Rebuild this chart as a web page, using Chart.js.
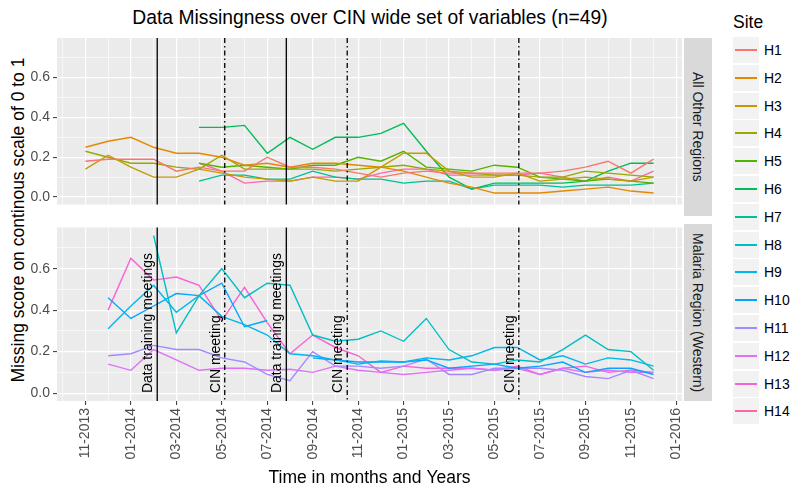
<!DOCTYPE html>
<html>
<head>
<meta charset="utf-8">
<script src="https://cdn.jsdelivr.net/npm/chart.js@4.4.1/dist/chart.umd.min.js"></script>
<style>
  body { margin: 0; background: #fff; font-family: "Liberation Sans", Arial, sans-serif; }
  #wrap { position: relative; width: 800px; height: 494px; overflow: hidden; }
  canvas { position: absolute; left: 0; }
  #title { position: absolute; left: 370px; top: 18px; transform: translate(-50%, -50%); font-size: 19.3px; white-space: nowrap; color: #000; }
  #ytitle { position: absolute; left: 18px; top: 219.5px; transform: translate(-50%, -50%) rotate(-90deg); font-size: 17.5px; white-space: nowrap; color: #000; }
  .strip { position: absolute; left: 683.5px; width: 28px; background: #D9D9D9; color: #1A1A1A; font-size: 14px;
           writing-mode: vertical-rl; display: flex; align-items: center; justify-content: center; white-space: nowrap; }
  #legend-title { position: absolute; left: 733px; top: 22px; transform: translateY(-50%); font-size: 17.5px; }
  .key { position: absolute; left: 733px; width: 26px; height: 26px; background: #F2F2F2; }
  .key span { position: absolute; left: 2px; right: 2px; top: 12px; height: 2px; }
  .klabel { position: absolute; left: 764px; font-size: 14px; line-height: 26px; height: 26px; }
</style>
</head>
<body>
<div id="wrap">
  <div id="title">Data Missingness over CIN wide set of variables (n=49)</div>
  <div id="ytitle">Missing score on continous scale of 0 to 1</div>
  <canvas id="top-chart" width="712" height="216" style="top:0"></canvas>
  <canvas id="bottom-chart" width="712" height="278" style="top:216px"></canvas>
  <div class="strip" style="top:38px;height:177.5px">All Other Regions</div>
  <div class="strip" style="top:223.5px;height:177.5px">Malaria Region (Western)</div>
  <div id="legend-title">Site</div>
  <div id="legend"></div>
</div>
<script>
// month index 0 = 11-2013 ... 25 = 12-2015
const tickLabels = ["11-2013", "01-2014", "03-2014", "05-2014", "07-2014", "09-2014", "11-2014",
                    "01-2015", "03-2015", "05-2015", "07-2015", "09-2015", "11-2015", "01-2016"];

const sites = ["H1", "H2", "H3", "H4", "H5", "H6", "H7", "H8", "H9", "H10", "H11", "H12", "H13", "H14"];
const siteColors = ["#F8766D", "#E38900", "#C49A00", "#99A800", "#53B400", "#00BC56", "#00C094",
                    "#00BFC4", "#00B6EB", "#06A4FF", "#A58AFF", "#DF70F8", "#FB61D7", "#FF66A8"];

const otherRegionSites = ["H1", "H2", "H3", "H4", "H5", "H6", "H7", "H14"];
const malariaSites = ["H8", "H9", "H10", "H11", "H12", "H13"];

// ---- All Other Regions ----
const H1 = [0.18, 0.19, 0.19, 0.19, 0.13, 0.15, 0.13, 0.13, 0.20, 0.15, 0.15, 0.14, 0.12, 0.10, 0.12, 0.13, 0.12, 0.12, 0.12, 0.12, 0.12, 0.13, 0.15, 0.18, 0.12, 0.19];
const H2 = [0.25, 0.28, 0.30, 0.25, 0.22, 0.22, 0.20, 0.16, 0.17, 0.15, 0.17, 0.17, 0.16, 0.15, 0.13, 0.10, 0.07, 0.05, 0.02, 0.02, 0.02, 0.03, 0.04, 0.05, 0.03, 0.02];
const H3 = [0.14, 0.21, 0.15, 0.10, 0.10, 0.14, 0.12, 0.10, 0.09, 0.08, 0.10, 0.08, 0.08, 0.15, 0.22, 0.22, 0.13, 0.10, 0.10, 0.12, 0.08, 0.09, 0.10, 0.09, 0.08, 0.10];
const H4 = [0.23, 0.20, 0.17, 0.17, 0.15, 0.14, 0.21, 0.14, 0.14, 0.14, 0.14, 0.13, 0.14, 0.15, 0.16, 0.14, 0.13, 0.12, 0.11, 0.11, 0.10, 0.10, 0.13, 0.12, 0.11, 0.10];
const H5 = [null, null, null, null, null, 0.17, 0.15, 0.16, 0.15, 0.14, 0.16, 0.16, 0.20, 0.18, 0.23, 0.15, 0.14, 0.13, 0.16, 0.15, 0.10, 0.09, 0.08, 0.09, 0.08, 0.07];
const H6 = [null, null, null, null, null, 0.35, 0.35, 0.36, 0.22, 0.30, 0.24, 0.30, 0.30, 0.32, 0.37, 0.23, 0.10, 0.04, 0.07, 0.07, 0.07, 0.07, 0.08, 0.13, 0.17, 0.17];
const H7 = [null, null, null, null, null, 0.08, 0.11, 0.11, 0.09, 0.09, 0.13, 0.10, 0.09, 0.09, 0.07, 0.08, 0.08, 0.04, 0.06, 0.06, 0.06, 0.05, 0.06, 0.06, 0.06, 0.07];
const H14 = [null, null, null, null, null, 0.17, 0.13, 0.07, 0.08, 0.08, 0.10, 0.10, 0.09, 0.12, 0.14, 0.14, 0.11, 0.11, 0.11, 0.11, 0.12, 0.10, 0.08, 0.10, 0.08, 0.13];

// ---- Malaria Region (Western) ----
const H8 = [null, null, null, 0.76, 0.29, 0.47, 0.60, 0.46, 0.53, 0.52, 0.28, 0.25, 0.26, 0.30, 0.25, 0.36, 0.21, 0.15, 0.14, 0.16, 0.15, 0.21, 0.28, 0.21, 0.20, 0.11];
const H9 = [null, 0.31, 0.42, 0.52, 0.39, 0.47, 0.37, 0.33, 0.28, 0.19, 0.18, 0.16, 0.14, 0.155, 0.15, 0.17, 0.16, 0.18, 0.22, 0.22, 0.16, 0.18, 0.14, 0.17, 0.16, 0.13];
const H10 = [null, 0.46, 0.36, 0.42, 0.48, 0.47, 0.53, 0.32, 0.35, null, 0.17, 0.16, 0.15, 0.15, 0.15, 0.16, 0.12, 0.13, 0.14, 0.12, 0.13, 0.15, 0.10, 0.12, 0.12, 0.09];
const H11 = [null, 0.18, 0.19, 0.23, 0.21, 0.21, 0.17, 0.15, 0.09, 0.06, 0.20, 0.13, 0.13, 0.12, 0.13, 0.165, 0.09, 0.09, 0.12, 0.12, 0.12, 0.11, 0.08, 0.07, 0.11, 0.07];
const H12 = [null, 0.14, 0.11, 0.21, 0.16, 0.11, 0.12, 0.12, 0.11, 0.115, 0.10, 0.13, 0.11, 0.10, 0.09, 0.10, 0.11, 0.12, 0.11, 0.12, 0.09, 0.12, 0.10, 0.11, 0.10, 0.10];
const H13 = [null, 0.40, 0.65, 0.545, 0.56, 0.52, 0.35, 0.51, 0.34, 0.19, 0.28, 0.22, 0.18, 0.10, 0.13, 0.12, 0.12, 0.12, 0.11, 0.13, 0.09, 0.12, 0.13, 0.10, 0.11, 0.10];

const siteData = { H1, H2, H3, H4, H5, H6, H7, H8, H9, H10, H11, H12, H13, H14 };

// event dates as fractional month index
const trainingMeetings = [3.16, 8.84];
const cinMeetings = [6.13, 11.52, 19.07];
const trainingLabel = "Data training meetings";
const cinLabel = "CIN meeting";

const FONT = "'Liberation Sans', Arial, sans-serif";
Chart.defaults.font.family = FONT;

// ============== helpers ==============
const isMajorX = v => Math.round(v) % 2 === 0;
const isMajorY = v => Math.round(v * 10) % 2 === 0;

function makeDatasets(list) {
  return list.map(name => ({
    label: name,
    data: siteData[name].map((v, i) => ({ x: i, y: v })),
    borderColor: siteColors[sites.indexOf(name)],
    borderWidth: 1.4,
    pointRadius: 0,
    tension: 0,
    spanGaps: false,
  }));
}

function yAxis() {
  return {
    type: "linear",
    min: -0.038,
    max: 0.799,
    afterFit: s => { s.width = 57; },
    border: { display: false },
    grid: {
      color: "#ffffff",
      lineWidth: c => isMajorY(c.tick.value) ? 1.2 : 0.6,
      tickColor: c => isMajorY(c.tick.value) ? "#333333" : "rgba(0,0,0,0)",
      tickLength: 4,
      tickWidth: 1,
    },
    ticks: {
      stepSize: 0.1,
      includeBounds: false,
      padding: 3,
      color: "#4D4D4D",
      font: { size: 14 },
      callback: v => {
        const k = Math.round(v * 10);
        return k % 2 === 0 ? (k / 10).toFixed(1) : "";
      },
    },
  };
}

function xAxis(showLabels) {
  const axis = {
    type: "linear",
    min: -1.25,
    max: 26.25,
    border: { display: false },
    grid: {
      color: "#ffffff",
      lineWidth: c => isMajorX(c.tick.value) ? 1.2 : 0.6,
      drawTicks: showLabels,
      tickColor: c => isMajorX(c.tick.value) ? "#333333" : "rgba(0,0,0,0)",
      tickLength: 4,
      tickWidth: 1,
    },
    ticks: {
      display: showLabels,
      stepSize: 1,
      includeBounds: false,
      autoSkip: false,
      minRotation: 90,
      maxRotation: 90,
      padding: 3,
      color: "#4D4D4D",
      font: { size: 14 },
      callback: v => {
        const k = Math.round(v);
        return k % 2 === 0 ? tickLabels[k / 2] : "";
      },
    },
  };
  if (showLabels) {
    axis.afterFit = s => { s.height = 93; };
    axis.title = {
      display: true,
      text: "Time in months and Years",
      color: "#000000",
      font: { size: 17.5 },
      padding: { top: 0, bottom: 5 },
    };
  } else {
    axis.afterFit = s => { s.height = 0; };
  }
  return axis;
}

// panel background + event lines + labels
const panelPlugin = {
  id: "panel",
  beforeDraw(chart) {
    const a = chart.chartArea, c = chart.ctx;
    c.save();
    c.fillStyle = "#EBEBEB";
    c.fillRect(a.left, a.top, a.right - a.left, a.bottom - a.top);
    c.restore();
  },
  afterDatasetsDraw(chart, args, opts) {
    const a = chart.chartArea, c = chart.ctx;
    const xs = chart.scales.x, ys = chart.scales.y;
    c.save();
    c.strokeStyle = "#000000";
    c.lineWidth = 1.3;
    trainingMeetings.forEach(m => {
      const px = xs.getPixelForValue(m);
      c.setLineDash([]);
      c.beginPath(); c.moveTo(px, a.top); c.lineTo(px, a.bottom); c.stroke();
    });
    cinMeetings.forEach(m => {
      const px = xs.getPixelForValue(m);
      c.setLineDash([5, 3, 1.5, 3]);
      c.beginPath(); c.moveTo(px, a.top); c.lineTo(px, a.bottom); c.stroke();
    });
    if (opts.labels) {
      const y0 = ys.getPixelForValue(0);
      c.fillStyle = "#000000";
      c.font = "14px " + FONT;
      c.textAlign = "left";
      c.textBaseline = "alphabetic";
      const put = (m, text) => {
        const px = xs.getPixelForValue(m);
        c.save();
        c.translate(px - 5, y0);
        c.rotate(-Math.PI / 2);
        c.fillText(text, 0, 0);
        c.restore();
      };
      trainingMeetings.forEach(m => put(m, trainingLabel));
      cinMeetings.forEach(m => put(m, cinLabel));
    }
    c.restore();
  },
};

function makeChart(id, list, isBottom) {
  return new Chart(document.getElementById(id).getContext("2d"), {
    type: "line",
    data: { datasets: makeDatasets(list) },
    options: {
      responsive: false,
      animation: false,
      events: [],
      layout: { padding: isBottom ? { top: 7.5, right: 30, bottom: 0, left: 0 } : { top: 38, right: 30, bottom: 0.5, left: 0 } },
      scales: { x: xAxis(isBottom), y: yAxis() },
      plugins: {
        legend: { display: false },
        tooltip: { enabled: false },
        panel: { labels: isBottom },
      },
    },
    plugins: [panelPlugin],
  });
}

// ============== legend ==============
function renderLegend() {
  const box = document.getElementById("legend");
  box.innerHTML = sites.map((s, i) => {
    const top = Math.round(37 + i * 27.8);
    return `<div class="key" style="top:${top}px"><span style="background:${siteColors[i]}"></span></div>
            <div class="klabel" style="top:${top}px">${s}</div>`;
  }).join("");
}

makeChart("top-chart", otherRegionSites, false);
makeChart("bottom-chart", malariaSites, true);
renderLegend();
</script>
</body>
</html>
